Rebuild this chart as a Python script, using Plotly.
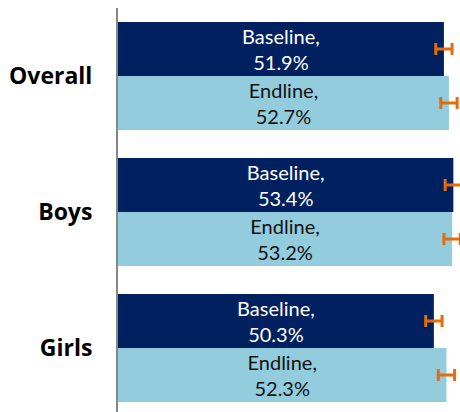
import plotly.graph_objects as go

# Share of students (%) by group, baseline vs endline, with error margins
groups = ["Overall", "Boys", "Girls"]
baseline = [51.9, 53.4, 50.3]
endline = [52.7, 53.2, 52.3]
baseline_err = [1.3, 1.3, 1.3]
endline_err = [1.3, 1.3, 1.3]

NAVY = "#002060"
LIGHT = "#93CDDD"
ORANGE = "#E46C0A"
FONT = "Lato"


def bar(name, values, errors, color, text_color):
    return go.Bar(
        name=name,
        y=groups,
        x=values,
        orientation="h",
        marker=dict(color=color, line=dict(width=0)),
        text=[f"{name},<br>{v:.1f}%" for v in values],
        textposition="inside",
        insidetextanchor="middle",
        textangle=0,
        constraintext="none",
        textfont=dict(family=FONT, size=20, color=text_color),
        error_x=dict(type="data", array=errors, visible=True,
                     color=ORANGE, thickness=3, width=6),
        hoverinfo="skip",
    )


fig = go.Figure([
    bar("Baseline", baseline, baseline_err, NAVY, "white"),
    bar("Endline", endline, endline_err, LIGHT, "#111111"),
])

fig.update_layout(
    width=460,
    height=412,
    margin=dict(l=118, r=0, t=8, b=0),
    barmode="group",
    bargap=0.206,
    bargroupgap=0,
    showlegend=False,
    plot_bgcolor="white",
    paper_bgcolor="white",
    xaxis=dict(range=[0, 54.46], visible=False, fixedrange=True),
    yaxis=dict(
        type="category",
        range=[2.47, -0.5],
        showline=True,
        linecolor="#868686",
        linewidth=2,
        showgrid=False,
        ticks="",
        ticklabelstandoff=19,
        tickfont=dict(family="Open Sans", size=23, color="black", weight="bold"),
    ),
)

fig.write_html("out.html")
